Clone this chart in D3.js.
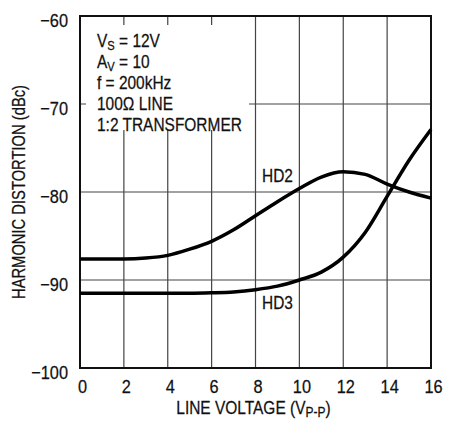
<!DOCTYPE html>
<html>
<head>
<meta charset="utf-8">
<script src="https://cdn.jsdelivr.net/npm/d3@7"></script>
<style>
  body { margin: 0; background: #fff; }
  text { font-family: "Liberation Sans", Arial, sans-serif; fill: #111; stroke: #111; stroke-width: 0.25; }
</style>
</head>
<body>
<div id="chart"></div>
<script>
// line voltage (Vp-p)
var voltage = [0, 1, 2, 3, 4, 5, 6, 7, 8, 9, 10, 11, 12, 13, 14, 15, 16];
// harmonic distortion (dBc)
var hd2 = [-87.6, -87.6, -87.6, -87.5, -87.2, -86.5, -85.6, -84.3, -82.7, -81.1, -79.6, -78.3, -77.7, -78.0, -79.1, -80.0, -80.7];
var hd3 = [-91.5, -91.5, -91.5, -91.5, -91.5, -91.5, -91.45, -91.35, -91.1, -90.7, -90.0, -89.1, -87.4, -84.6, -80.5, -76.4, -72.9];
var xTicks = [0, 2, 4, 6, 8, 10, 12, 14, 16];
var yTicks = [-100, -90, -80, -70, -60];
var notes = ["VS = 12V", "AV = 10", "f = 200kHz", "100\u03A9 LINE", "1:2 TRANSFORMER"];

var width = 457, height = 421;
var margin = {left: 80, right: 26, top: 16, bottom: 53};
var squeeze = 'scale(0.86,1)';   // no condensed face installed, so narrow the regular one

var svg = d3.select('#chart')
    .append('svg')
    .attr('width', width)
    .attr('height', height);

var x = d3.scaleLinear().domain([0, 16]).range([margin.left, width - margin.right]);
var y = d3.scaleLinear().domain([-100, -60]).range([height - margin.bottom, margin.top]);

var fmt = function(d){ return d < 0 ? '\u2212' + Math.abs(d) : d; };

// text placed at (px,py), squeezed around that point
function label(px, py, anchor, rot, sq){
    return svg.append('g')
        .attr('transform', 'translate(' + px + ',' + py + ')' + (rot ? ' rotate(' + rot + ')' : ''))
        .append('text')
        .attr('transform', sq || squeeze)
        .attr('text-anchor', anchor || 'start')
        .style('font-size', '18px');
}

// grid
var grid = svg.append('g').attr('stroke', '#444').attr('stroke-width', 1.2);
grid.selectAll('line.v')
    .data(xTicks.slice(1, -1))
    .enter()
    .append('line')
    .attr('x1', function(d){ return x(d); })
    .attr('x2', function(d){ return x(d); })
    .attr('y1', y(-60))
    .attr('y2', y(-100));
grid.selectAll('line.h')
    .data(yTicks.slice(1, -1))
    .enter()
    .append('line')
    .attr('x1', x(0))
    .attr('x2', x(16))
    .attr('y1', function(d){ return y(d); })
    .attr('y2', function(d){ return y(d); });

// blank box behind the conditions text
svg.append('rect')
    .attr('x', x(0) + 6)
    .attr('y', y(-60) + 9)
    .attr('width', 163)
    .attr('height', 105)
    .attr('fill', '#fff');

// frame
svg.append('rect')
    .attr('x', x(0))
    .attr('y', y(-60))
    .attr('width', x(16) - x(0))
    .attr('height', y(-100) - y(-60))
    .attr('fill', 'none')
    .attr('stroke', '#111')
    .attr('stroke-width', 2);

// axes (labels only)
var xAxis = svg.append('g')
    .attr('transform', 'translate(2,' + y(-100) + ')')
    .call(d3.axisBottom(x).tickValues(xTicks).tickSize(0).tickPadding(0).tickFormat(fmt));
xAxis.select('.domain').remove();
xAxis.selectAll('text')
    .attr('dy', null)
    .attr('y', 0)
    .attr('transform', 'translate(0,25) ' + squeeze)
    .style('font-size', '19px');

var yAxis = svg.append('g')
    .attr('transform', 'translate(68,0)')
    .call(d3.axisLeft(y).tickValues(yTicks).tickSize(0).tickPadding(0).tickFormat(fmt));
yAxis.select('.domain').remove();
yAxis.selectAll('text')
    .attr('dy', null)
    .attr('x', 0)
    .attr('transform', 'translate(0,10) ' + squeeze)
    .style('font-size', '19px');

// curves
var line = d3.line()
    .x(function(d){ return x(d[0]); })
    .y(function(d){ return y(d[1]); })
    .curve(d3.curveMonotoneX);

[hd2, hd3].forEach(function(series){
    svg.append('path')
        .datum(d3.zip(voltage, series))
        .attr('d', line)
        .attr('fill', 'none')
        .attr('stroke', '#000')
        .attr('stroke-width', 3.5);
});

// curve labels
label(262, 182).text('HD2');
label(262, 309).text('HD3');

// conditions
notes.forEach(function(n, i){
    var t = label(97, 47 + i * 21);
    if(i < 2){
        t.append('tspan').text(n.charAt(0));
        t.append('tspan').attr('dy', 3).style('font-size', '13px').text(n.charAt(1));
        t.append('tspan').attr('dy', -3).text(n.slice(2));
    }else{
        t.text(n);
    }
});

// axis titles
var xt = label(x(8) - 2, 414, 'middle');
xt.append('tspan').text('LINE VOLTAGE (V');
xt.append('tspan').attr('dy', 3).style('font-size', '14px').text('P-P');
xt.append('tspan').attr('dy', -3).text(')');

label(25, (y(-60) + y(-100)) / 2, 'middle', -90, 'scale(0.82,1)').text('HARMONIC DISTORTION (dBc)');
</script>
</body>
</html>
